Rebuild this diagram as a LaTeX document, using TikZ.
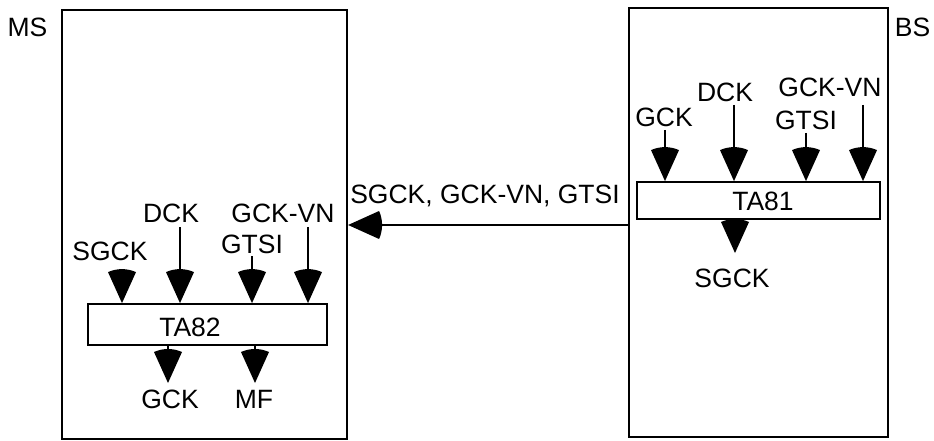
\documentclass[tikz,border=0pt]{standalone}
\usepackage{fontspec}
\setmainfont{Liberation Sans}
\usetikzlibrary{arrows.meta}
\pgfdeclarearrow{
  name=BigHead,
  setup code={
    \pgfarrowssettipend{0pt}
    \pgfarrowssetlineend{-18pt}
    \pgfarrowssetvisualbackend{-31pt}
    \pgfarrowssetbackend{-35pt}
    \pgfarrowsupperhullpoint{0pt}{0pt}
    \pgfarrowsupperhullpoint{-35pt}{14pt}
  },
  drawing code={
    \pgfpathmoveto{\pgfpoint{0pt}{0pt}}
    \pgfpathlineto{\pgfpoint{-31pt}{14pt}}
    \pgfpathcurveto{\pgfpoint{-35pt}{5pt}}{\pgfpoint{-35pt}{-5pt}}{\pgfpoint{-31pt}{-14pt}}
    \pgfpathclose
    \pgfusepathqfill
  }
}
\tikzset{
  outerbox/.style={draw, line width=2.2pt, inner sep=0pt},
  innerbox/.style={draw, line width=1.8pt, inner sep=0pt},
  lbl/.style={inner sep=0pt, anchor=base, font=\fontsize{26.5}{31}\selectfont},
  arr/.style={line width=1.5pt, -BigHead},
}
\begin{document}
\begin{tikzpicture}[x=1pt,y=-1pt]
\useasboundingbox (0,0) rectangle (934,441);
% outer boxes
\node[outerbox, minimum width=285pt, minimum height=429pt] (ms) at (204.5,224.5) {};
\node[outerbox, minimum width=259pt, minimum height=429pt] (bs) at (758.5,222.5) {};
\node[lbl] (mslbl) at (27.5,37) {MS};
\node[lbl] (bslbl) at (912.5,37) {BS};
% inner boxes
\node[innerbox, minimum width=239pt, minimum height=41pt] (ta82) at (207.5,324.5) {};
\node[lbl] (ta82t) at (190,336) {TA82};
\node[innerbox, minimum width=243pt, minimum height=37pt] (ta81) at (758.5,200.5) {};
\node[lbl] (ta81t) at (763,210) {TA81};
% MS labels
\node[lbl] (msSGCK) at (110,260) {SGCK};
\node[lbl] (msDCK) at (171,222) {DCK};
\node[lbl] (msGTSI) at (252,253) {GTSI};
\node[lbl] (msGCKVN) at (283,222) {GCK-VN};
\node[lbl] (msGCK) at (170,408) {GCK};
\node[lbl] (msMF) at (254,408) {MF};
% BS labels
\node[lbl] (bsGCK) at (664,127) {GCK};
\node[lbl] (bsDCK) at (725,102) {DCK};
\node[lbl] (bsGTSI) at (806,130) {GTSI};
\node[lbl] (bsGCKVN) at (830,97) {GCK-VN};
\node[lbl] (bsSGCK) at (732,287) {SGCK};
% middle label
\node[lbl] (midlbl) at (485,203) {SGCK, GCK-VN, GTSI};
% start/end coordinates
\coordinate (a1) at (122,271);
\coordinate (a2) at (180,227);
\coordinate (a3) at (252,256);
\coordinate (a4) at (308,227);
\coordinate (o1) at (168,383);
\coordinate (o2) at (255,383);
\coordinate (b1) at (665,130);
\coordinate (b2) at (734,105);
\coordinate (b3) at (806,133);
\coordinate (b4) at (863,105);
\coordinate (b5) at (735,253);
\coordinate (m1) at (629,225);
% MS arrows
\draw[arr] (a1) -- (a1 |- ta82.north);
\draw[arr] (a2) -- (a2 |- ta82.north);
\draw[arr] (a3) -- (a3 |- ta82.north);
\draw[arr] (a4) -- (a4 |- ta82.north);
\draw[arr] (o1 |- ta82.south) -- (o1);
\draw[arr] (o2 |- ta82.south) -- (o2);
% BS arrows
\draw[arr] (b1) -- (b1 |- ta81.north);
\draw[arr] (b2) -- (b2 |- ta81.north);
\draw[arr] (b3) -- (b3 |- ta81.north);
\draw[arr] (b4) -- (b4 |- ta81.north);
\draw[arr] (b5 |- ta81.south) -- (b5);
% main arrow
\draw[arr] (m1) -- (m1 -| ms.east);
\end{tikzpicture}
\end{document}
